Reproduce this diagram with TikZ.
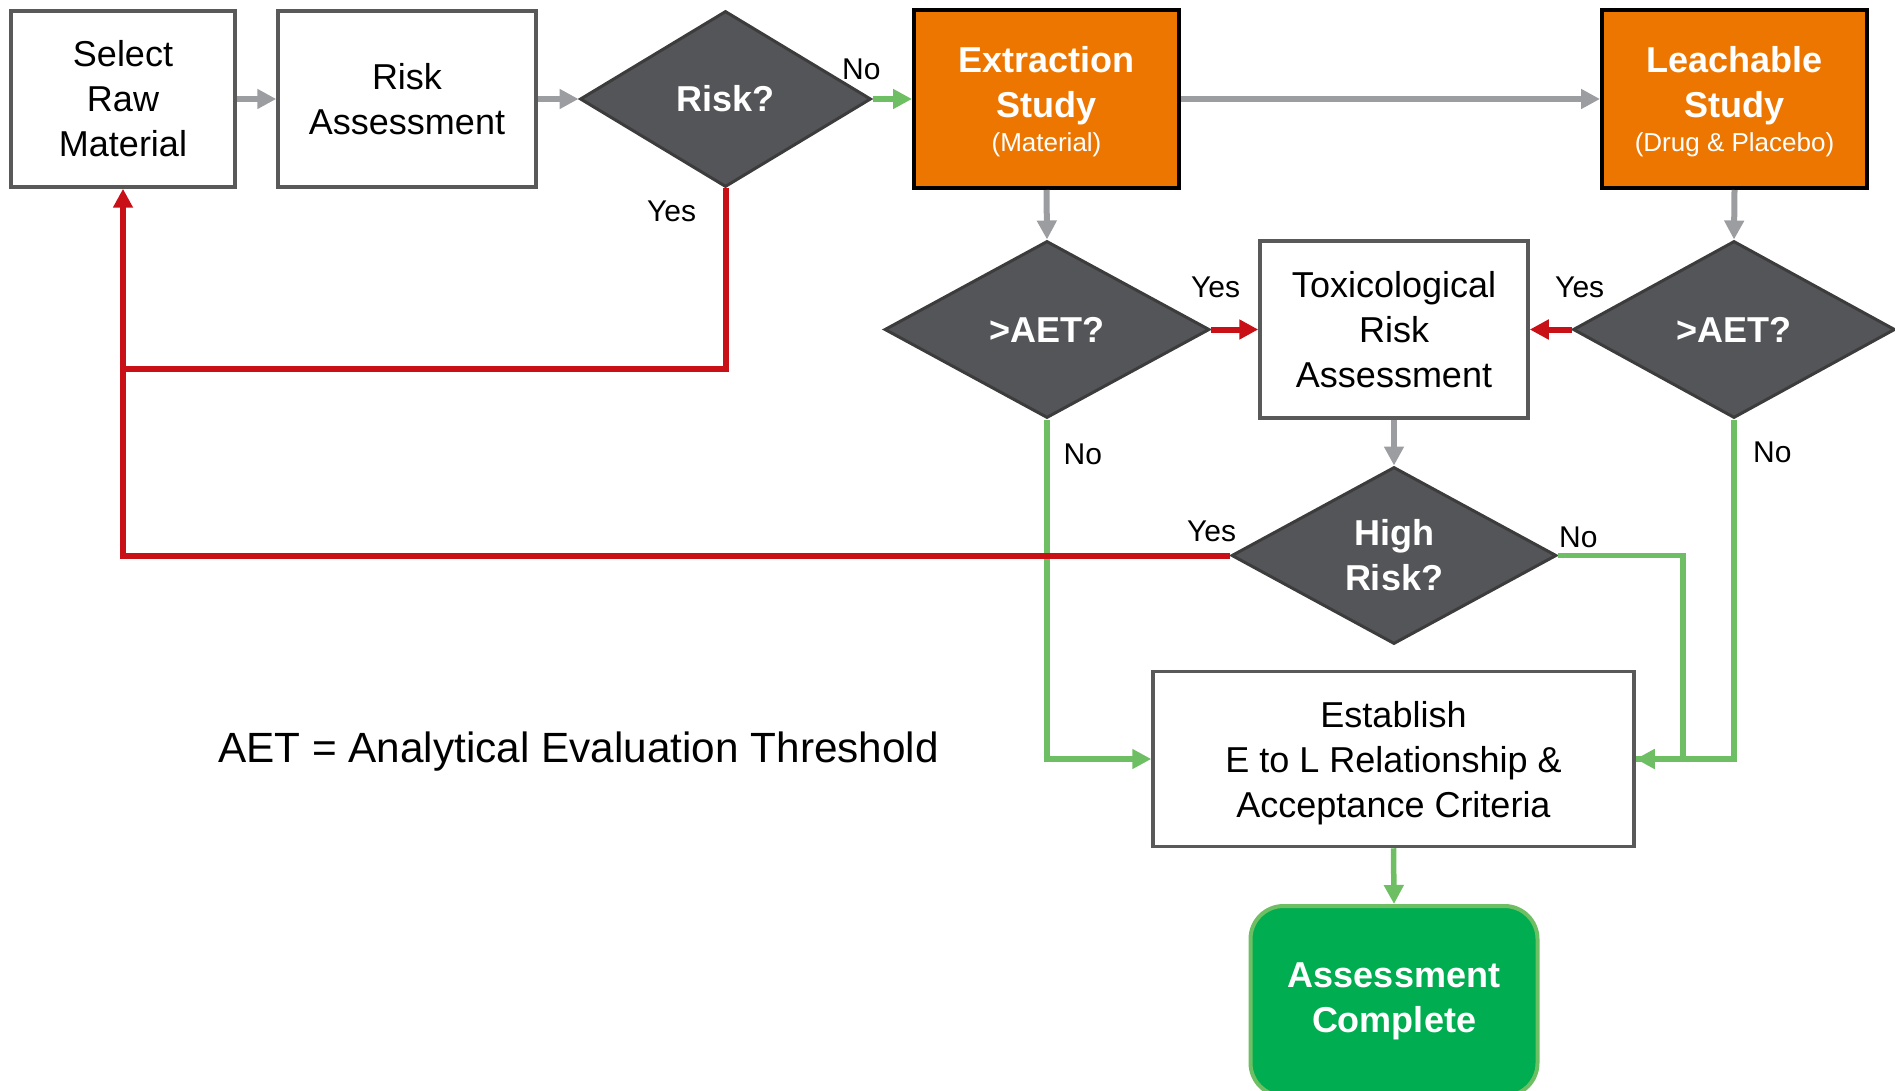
\documentclass[tikz,border=0pt]{standalone}
\usepackage{fontspec}
\setmainfont{Liberation Sans}
\usetikzlibrary{shapes.geometric,arrows.meta}
\definecolor{boxline}{RGB}{89,89,89}
\definecolor{dfill}{RGB}{84,85,88}
\definecolor{dline}{RGB}{60,60,60}
\definecolor{orng}{RGB}{237,118,0}
\definecolor{gryarr}{RGB}{155,157,161}
\definecolor{redarr}{RGB}{200,16,22}
\definecolor{grnarr}{RGB}{110,190,100}
\definecolor{grnfill}{RGB}{0,173,80}
\begin{document}
\begin{tikzpicture}[x=1pt,y=-1pt,
  box/.style={draw=boxline,line width=3.5pt,fill=white,inner sep=0pt,align=center,
    font=\fontsize{36}{45}\selectfont},
  dia/.style={diamond,draw=dline,line width=3pt,fill=dfill,inner sep=0pt,aspect=1.8,
    text=white,align=center,font=\fontsize{36}{45}\selectfont\bfseries},
  study/.style={draw=black,line width=4pt,fill=orng,inner sep=0pt,text=white,align=center,
    minimum width=265pt,minimum height=178pt,font=\fontsize{36}{45}\selectfont,text depth=0pt},
  lbl/.style={inner sep=0pt,anchor=base west,font=\fontsize{30}{36}\selectfont},
  tip/.style={-{Triangle[length=19pt,width=19pt]}},
  gar/.style={draw=gryarr,line width=6pt,tip},
  rar/.style={draw=redarr,line width=6pt},
  gnar/.style={draw=grnarr,line width=5.5pt}]
\useasboundingbox (0,0) rectangle (1895,1091);

% nodes
\node[box,minimum width=224pt,minimum height=176pt] (sel) at (123,99) {Select\\Raw\\Material};
\node[box,minimum width=258pt,minimum height=176pt] (ra) at (407,99) {Risk\\Assessment};
\node[dia,minimum width=291pt,minimum height=176pt] (risk) at (725.5,99) {Risk?};
\node[study] (ext) at (1046.5,99) {\textbf{Extraction}\\\textbf{Study}\\[-11pt]{\fontsize{26}{31}\selectfont (Material)}};
\node[study] (lea) at (1734.5,99) {\textbf{Leachable}\\\textbf{Study}\\[-11pt]{\fontsize{26}{31}\selectfont (Drug \& Placebo)}};
\node[dia,minimum width=325pt,minimum height=177pt] (aetL) at (1047,329.5) {>AET?};
\node[box,minimum width=268pt,minimum height=177pt] (tox) at (1394,329.5) {Toxicological\\Risk\\Assessment};
\node[dia,minimum width=322pt,minimum height=177pt] (aetR) at (1734,329.5) {>AET?};
\node[dia,minimum width=325pt,minimum height=177pt] (hr) at (1394,555.5) {High\\Risk?};
\node[box,minimum width=481pt,minimum height=175pt,text depth=0pt] (est) at (1393.5,759) {Establish\\E to L Relationship \&\\Acceptance Criteria};
\node[draw=grnarr,line width=4pt,fill=grnfill,rounded corners=33pt,inner sep=0pt,
  minimum width=287pt,minimum height=190pt,text=white,align=center,
  font=\fontsize{36}{45}\selectfont\bfseries] (done) at (1394,1001) {Assessment\\Complete};
\node[inner sep=0pt,anchor=base west,font=\fontsize{42.3}{50}\selectfont] (note) at (218,762)
  {AET = Analytical Evaluation Threshold};

% coordinates for junctions
\coordinate (jr) at (123,369);
\coordinate (jg) at (1683,555.5);

% gray connectors
\draw[gar] (sel.east) -- (ra.west);
\draw[gar] (ra.east) -- (risk.west);
\draw[gar] (ext.east) -- (lea.west);
\draw[gar] (ext.south) -- (aetL.north);
\draw[gar] (lea.south) -- (aetR.north);
\draw[gar] (tox.south) -- (hr.north);

% green connectors
\draw[gnar,tip] (risk.east) -- (ext.west);
\draw[gnar,tip] (aetL.south) |- (est.west);
\draw[gnar,tip] (aetR.south) |- (est.east);
\draw[gnar] (hr.east) -- (jg) |- (est.east);
\draw[gnar,tip] (est.south) -- (done.north);

% red connectors
\draw[rar] (risk.south) |- (jr);
\draw[rar,tip] (hr.west) -| (sel.south);
\draw[rar,tip] (aetL.east) -- (tox.west);
\draw[rar,tip] (aetR.west) -- (tox.east);

% labels
\node[lbl] (l1) at (842,80) {No};
\node[lbl] (l2) at (647,222) {Yes};
\node[lbl] (l3) at (1191,298) {Yes};
\node[lbl] (l4) at (1555,298) {Yes};
\node[lbl] (l5) at (1063.5,464) {No};
\node[lbl] (l6) at (1753,462) {No};
\node[lbl] (l7) at (1187,541.7) {Yes};
\node[lbl] (l8) at (1559,547) {No};
\end{tikzpicture}
\end{document}
